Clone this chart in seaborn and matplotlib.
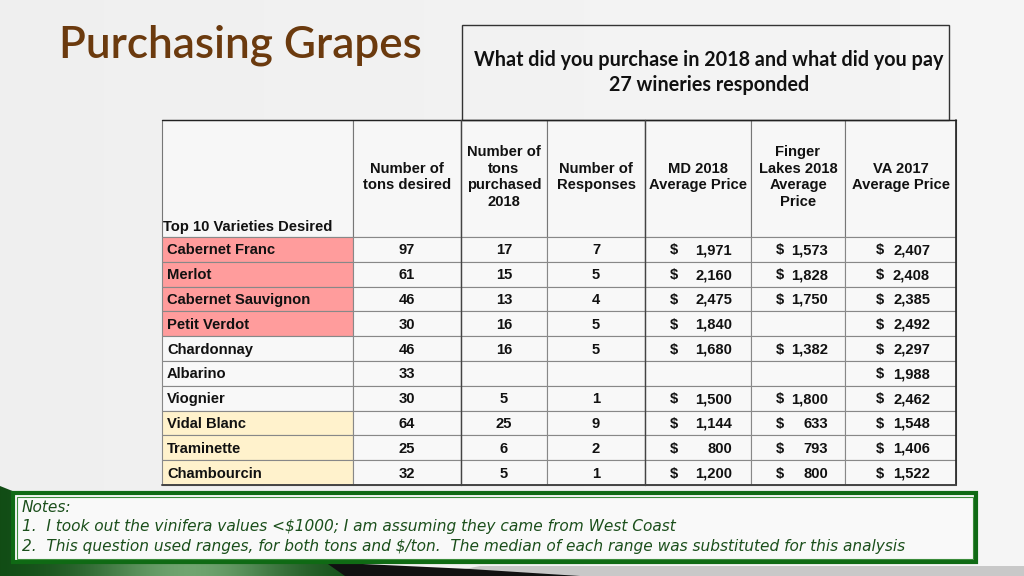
import numpy as np
import seaborn as sns
import matplotlib.pyplot as plt
from matplotlib.patches import Rectangle, Polygon

sns.set_theme(style='white')
plt.rcParams['font.family'] = ['Liberation Sans', 'DejaVu Sans']

# table data
varieties = ['Cabernet Franc', 'Merlot', 'Cabernet Sauvignon', 'Petit Verdot', 'Chardonnay',
             'Albarino', 'Viognier', 'Vidal Blanc', 'Traminette', 'Chambourcin']
variety_group = ['red', 'red', 'red', 'red', 'white', 'white', 'white', 'hybrid', 'hybrid', 'hybrid']
tons_desired = [97, 61, 46, 30, 46, 33, 30, 64, 25, 32]
tons_purchased = [17, 15, 13, 16, 16, None, 5, 25, 6, 5]
responses = [7, 5, 4, 5, 5, None, 1, 9, 2, 1]
md_2018_price = [1971, 2160, 2475, 1840, 1680, None, 1500, 1144, 800, 1200]
fl_2018_price = [1573, 1828, 1750, None, 1382, None, 1800, 633, 793, 800]
va_2017_price = [2407, 2408, 2385, 2492, 2297, 1988, 2462, 1548, 1406, 1522]
col_headers = ['Number of\ntons desired', 'Number of\ntons\npurchased\n2018', 'Number of\nResponses',
               'MD 2018\nAverage Price', 'Finger\nLakes 2018\nAverage\nPrice', 'VA 2017\nAverage Price']
notes = ['Notes:',
         '1.  I took out the vinifera values <$1000; I am assuming they came from West Coast',
         '2.  This question used ranges, for both tons and $/ton.  The median of each range was substituted for this analysis']

group_colors = {'red': '#FF9C9C', 'white': '#F8F8F8', 'hybrid': '#FFF2CC'}

# layout in pixels
col_edges = [162, 353, 461, 547, 645, 751, 845, 956]
head_top, head_bot = 120, 237
row_h = 24.8
fs = 10.6

fig = plt.figure(figsize=(10.24, 5.76), dpi=100)
ax = fig.add_axes([0, 0, 1, 1])
ax.set_xlim(0, 1024)
ax.set_ylim(576, 0)
ax.axis('off')

# background gradient
bg = np.linspace(0.935, 0.96, 256).reshape(1, -1)
ax.imshow(bg, extent=(0, 1024, 576, 0), cmap='gray', vmin=0, vmax=1, aspect='auto', zorder=0)

ax.text(59, 45, 'Purchasing Grapes', fontsize=31.8, color='#6B3A0E', family=['Lato', 'DejaVu Sans'],
        fontweight='semibold', va='center', ha='left')

# question box
ax.add_patch(Rectangle((462, 25), 487, head_top - 25, fill=False, ec='#333333', lw=1.0, zorder=3))
ax.text(709, 60, 'What did you purchase in 2018 and what did you pay', fontsize=14.2,
        family=['Lato', 'DejaVu Sans'], fontweight='bold', ha='center', va='center', color='#111111')
ax.text(709, 85, '27 wineries responded', fontsize=14.2, family=['Lato', 'DejaVu Sans'],
        fontweight='bold', ha='center', va='center', color='#111111')

# header cells
for i in range(7):
    ax.add_patch(Rectangle((col_edges[i], head_top), col_edges[i + 1] - col_edges[i], head_bot - head_top,
                           fc='#F7F7F7', ec='#777777', lw=0.8, zorder=2))
for i, h in enumerate(col_headers):
    cx = (col_edges[i + 1] + col_edges[i + 2]) / 2
    ax.text(cx, 177, h, fontsize=fs, fontweight='bold', ha='center', va='center',
            linespacing=1.25, color='#111111', zorder=4)
ax.text(163, 231, 'Top 10 Varieties Desired', fontsize=fs, fontweight='bold', ha='left', va='baseline',
        color='#111111', zorder=4)


def money(v):
    return ('', '') if v is None else ('$', f'{v:,}')


price_cols = [md_2018_price, fl_2018_price, va_2017_price]
dollar_x = [670, 776, 876]
num_right = [732, 828, 930]

for r, name in enumerate(varieties):
    y0 = head_bot + r * row_h
    yb = y0 + row_h / 2 + 5
    for i in range(7):
        fc = group_colors[variety_group[r]] if i == 0 else '#F8F8F8'
        ax.add_patch(Rectangle((col_edges[i], y0), col_edges[i + 1] - col_edges[i], row_h,
                               fc=fc, ec='#888888', lw=0.8, zorder=2))
    ax.text(167, yb, name, fontsize=fs, fontweight='bold', ha='left', va='baseline', color='#111111', zorder=4)
    for i, vals in enumerate([tons_desired, tons_purchased, responses]):
        v = vals[r]
        if v is not None:
            cx = (col_edges[i + 1] + col_edges[i + 2]) / 2
            ax.text(cx, yb, str(v), fontsize=fs, fontweight='bold', ha='center', va='baseline',
                    color='#111111', zorder=4)
    for i, vals in enumerate(price_cols):
        d, n = money(vals[r])
        ax.text(dollar_x[i], yb, d, fontsize=fs, fontweight='bold', ha='left', va='baseline',
                color='#111111', zorder=4)
        ax.text(num_right[i], yb, n, fontsize=fs, fontweight='bold', ha='right', va='baseline',
                color='#111111', zorder=4)

table_bot = head_bot + len(varieties) * row_h
# outer borders and darker separators
ax.plot([162, 956], [head_top, head_top], color='#222222', lw=1.0, zorder=5)
ax.plot([956, 956], [head_top, table_bot], color='#222222', lw=1.2, zorder=5)
ax.plot([162, 956], [table_bot, table_bot], color='#444444', lw=1.4, zorder=5)
for x in [461, 645]:
    ax.plot([x, x], [head_top, table_bot], color='#444444', lw=1.0, zorder=5)

# bottom decoration
grey = Polygon([(430, 576), (480, 566), (1024, 566), (1024, 576)], closed=True, fc='#C8C8C8', ec='none', zorder=1)
ax.add_patch(grey)
black = Polygon([(320, 562), (470, 569), (580, 576), (340, 576)], closed=True, fc='#111111', ec='none', zorder=1)
ax.add_patch(black)
green_poly = Polygon([(0, 486), (20, 494), (20, 562), (325, 562), (345, 576), (0, 576)], closed=True,
                     fc='none', ec='none', zorder=1)
ax.add_patch(green_poly)
gx = np.linspace(0, 1, 256)
gshade = np.exp(-((gx - 0.55) / 0.3) ** 2).reshape(1, -1)
gimg = ax.imshow(gshade, extent=(0, 345, 576, 486), cmap=sns.blend_palette(['#0E4A12', '#6FA46F'], as_cmap=True),
                 vmin=0, vmax=1, aspect='auto', zorder=1)
gimg.set_clip_path(green_poly)

# notes box
ax.add_patch(Rectangle((13, 493), 963, 69, fc='#F9F9F9', ec='#0F6A14', lw=3.0, zorder=3))
ax.add_patch(Rectangle((16.5, 496.5), 956, 62, fill=False, ec='#3C8C3C', lw=0.8, zorder=3))
for k, line in enumerate(notes):
    ax.text(22, 507 + k * 19.5, line, fontsize=11.1, style='italic', color='#1B4F1B',
            family=['DejaVu Sans'], ha='left', va='center', zorder=4)

fig.savefig('out.png', dpi=100)
